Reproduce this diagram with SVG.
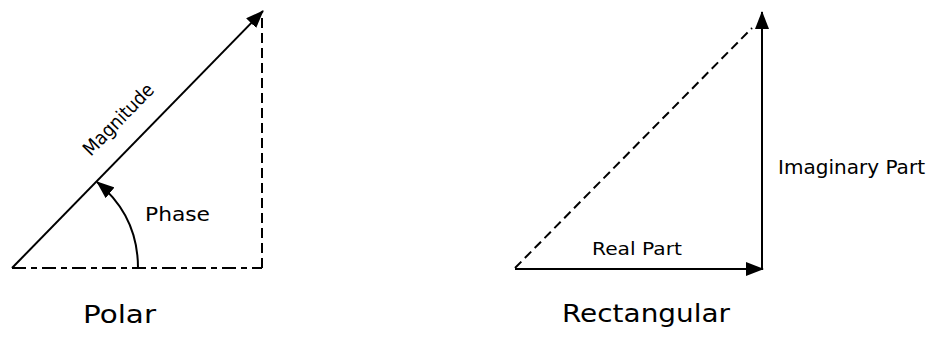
<svg xmlns="http://www.w3.org/2000/svg" width="935" height="337" viewBox="0 0 935 337">
<style>
  .ln { fill: none; stroke: #000; stroke-width: 2; }
  .dashA { stroke-dasharray: 14 5 6 5; }
  .dashB { stroke-dasharray: 10 5; }
  .dashC { stroke-dasharray: 9 5; }
  .t { font-family: "DejaVu Sans", "Liberation Sans", sans-serif; fill: #000; }
</style>
<defs>
  <marker id="ah" viewBox="0 0 18 14" refX="17" refY="7" markerWidth="18" markerHeight="14" orient="auto" markerUnits="userSpaceOnUse">
    <path d="M0,0 L18,7 L0,14 z" fill="#000"/>
  </marker>
</defs>
<rect width="935" height="337" fill="#fff"/>
<g id="connectors">
  <path class="ln" d="M12,268 L263,11" marker-end="url(#ah)"/>
  <path class="ln dashA" d="M12,268 L262,268"/>
  <path class="ln dashB" d="M262,268 L262,18"/>
  <path class="ln" d="M138,268 C138,235 125,205 97,182" marker-end="url(#ah)"/>
  <path class="ln dashC" d="M515,268 L752,28"/>
  <path class="ln" d="M515,269 L763,269" marker-end="url(#ah)"/>
  <path class="ln" d="M762,269 L762,12" marker-end="url(#ah)"/>
</g>
<g id="polar">
  <text class="t" font-size="19" text-anchor="middle" textLength="92" lengthAdjust="spacingAndGlyphs" transform="translate(123,124) rotate(-45.7)">Magnitude</text>
  <text class="t" x="145" y="221" font-size="20" textLength="65" lengthAdjust="spacingAndGlyphs">Phase</text>
  <text class="t" x="83" y="323" font-size="25" textLength="73" lengthAdjust="spacingAndGlyphs">Polar</text>
</g>
<g id="rectangular">
  <text class="t" x="592" y="255" font-size="18" textLength="90" lengthAdjust="spacingAndGlyphs">Real Part</text>
  <text class="t" x="778" y="174" font-size="19" textLength="147" lengthAdjust="spacingAndGlyphs">Imaginary Part</text>
  <text class="t" x="562" y="322" font-size="25" textLength="168" lengthAdjust="spacingAndGlyphs">Rectangular</text>
</g>
</svg>
